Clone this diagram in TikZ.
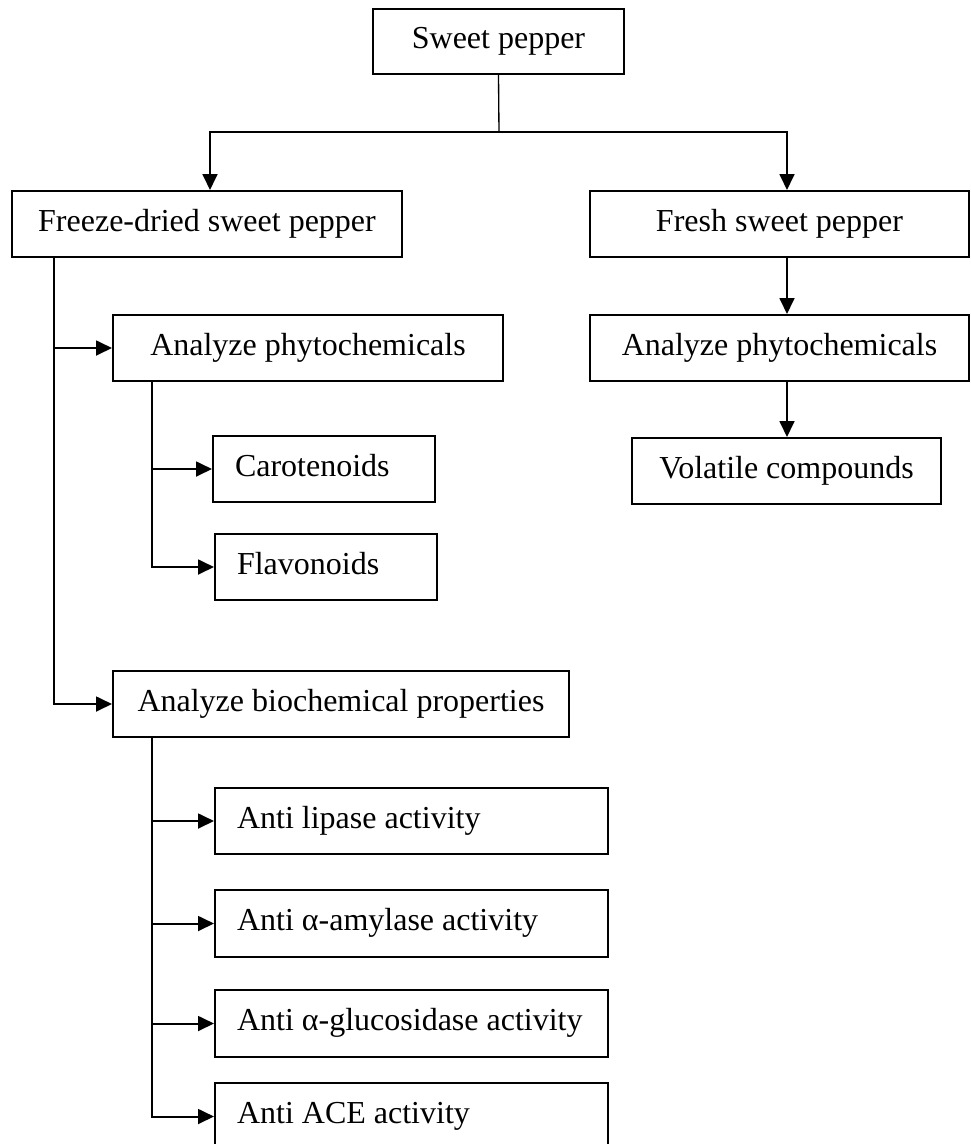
\documentclass[tikz,border=0pt]{standalone}
\usepackage{fontspec}
\setmainfont{Liberation Serif}
\usepackage{tikz}
\usetikzlibrary{arrows.meta,positioning}
\newcommand{\pxu}{0.375pt}

\begin{document}
\begin{tikzpicture}[
    x=0.375pt, y=-0.375pt,
    box/.style={draw, line width=0.75pt, align=center, font=\fontsize{12}{14}\selectfont,
      text height=8.2pt, text depth=2.6pt, minimum height=66*\pxu, inner sep=0pt},
    lbox/.style={box, align=flush left, inner xsep=22*\pxu},
    arrow/.style={-{Triangle[length=6pt, width=5.6pt]}, line width=0.75pt}
  ]
    \clip (0,0) rectangle (971,1144);

    \node[box, minimum width=251*\pxu, minimum height=65*\pxu] (sweet) at (498.5,41.5) {Sweet pepper};
    \node[box, minimum width=390*\pxu] (freeze) at (207,224) {Freeze-dried sweet pepper};
    \node[box, minimum width=379*\pxu] (fresh) at (779.5,224) {Fresh sweet pepper};
    \node[box, minimum width=390*\pxu] (phyL) at (308,348) {Analyze phytochemicals};
    \node[box, minimum width=379*\pxu] (phyR) at (779.5,348) {Analyze phytochemicals};
    \node[lbox, text width=178*\pxu] (carot) at (324,469) {Carotenoids};
    \node[lbox, text width=178*\pxu] (flavo) at (326,567) {Flavonoids};
    \node[box, minimum width=309*\pxu] (vola) at (786.5,471) {Volatile compounds};
    \node[box, minimum width=456*\pxu] (bioch) at (341,704) {Analyze biochemical properties};
    \node[lbox, text width=349*\pxu] (lipase) at (411.5,821) {Anti lipase activity};
    \node[lbox, text width=349*\pxu, minimum height=67*\pxu] (amyl) at (411.5,923.5) {Anti α-amylase activity};
    \node[lbox, text width=349*\pxu, minimum height=67*\pxu] (gluco) at (411.5,1023.5) {Anti α-glucosidase activity};
    \node[lbox, text width=349*\pxu, minimum height=67*\pxu] (ace) at (411.5,1116.5) {Anti ACE activity};

    % branch points and trunks
    \coordinate (split) at (499,132);
    \coordinate (lcol) at (210,0);
    \coordinate (rcol) at (787,0);
    \coordinate (fdtrunk) at (54,0);
    \coordinate (phytrunk) at (152,0);
    \coordinate (biotrunk) at (152,0);

    \draw[line width=0.5pt] (sweet.south) -- (split);
    \draw[arrow] (split) -| (freeze.north -| lcol);
    \draw[arrow] (split) -| (fresh.north -| rcol);

    \draw[arrow] (fresh.south -| rcol) -- (phyR.north -| rcol);
    \draw[arrow] (phyR.south -| rcol) -- (vola.north -| rcol);

    \draw[arrow] (freeze.south -| fdtrunk) |- (phyL.west);
    \draw[arrow] (freeze.south -| fdtrunk) |- (bioch.west);

    \foreach \b in {carot,flavo}
      \draw[arrow] (phyL.south -| phytrunk) |- (\b.west);
    \foreach \b in {lipase,amyl,gluco,ace}
      \draw[arrow] (bioch.south -| biotrunk) |- (\b.west);
  \end{tikzpicture}
\end{document}
